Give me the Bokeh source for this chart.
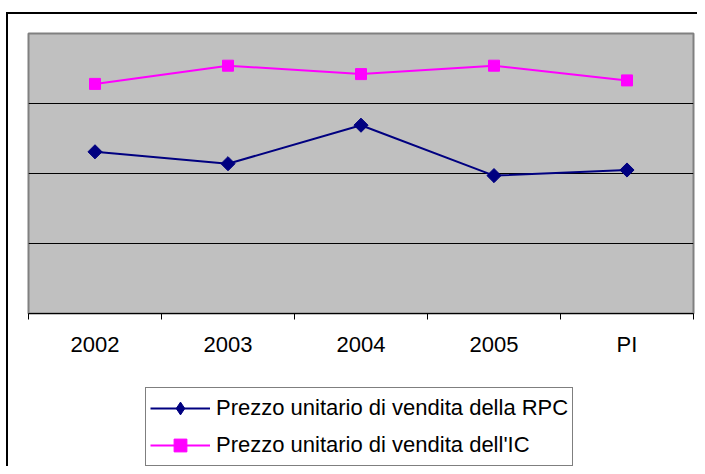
from bokeh.plotting import figure
from bokeh.layouts import column
from bokeh.models import (ColumnDataSource, Range1d, FixedTicker, LinearAxis,
                          Legend, LegendItem, Grid, InlineStyleSheet)
from bokeh.embed import file_html
from bokeh.resources import INLINE

categories = ["2002", "2003", "2004", "2005", "PI"]
rpc_price = [2.31, 2.14, 2.69, 1.97, 2.05]
ic_price = [3.28, 3.54, 3.42, 3.54, 3.33]
y_grid = [1, 2, 3]
series_labels = ["Prezzo unitario di vendita della RPC",
                 "Prezzo unitario di vendita dell'IC"]

xs = [i + 0.5 for i in range(len(categories))]
src = ColumnDataSource(dict(x=xs, rpc=rpc_price, ic=ic_price))

FONT = "Liberation Sans"
NAVY = "#000080"
MAGENTA = "#FF00FF"

# ---------------- main chart ----------------
p = figure(width=697, height=380, output_backend="svg", toolbar_location=None,
           x_range=Range1d(0, len(categories)), y_range=Range1d(0, 4),
           min_border_left=28, min_border_right=4, min_border_top=33,
           min_border_bottom=67, x_axis_type=None, y_axis_type=None)
p.background_fill_color = "#C0C0C0"
p.border_fill_color = "white"
p.outline_line_color = "#808080"
p.outline_line_width = 2

# tick axis (category boundaries)
ax_ticks = LinearAxis(ticker=FixedTicker(ticks=list(range(len(categories) + 1))))
ax_ticks.major_label_overrides = {i: "" for i in range(len(categories) + 1)}
ax_ticks.major_label_text_font_size = "1px"
ax_ticks.major_label_standoff = 0
ax_ticks.major_tick_out = 6
ax_ticks.major_tick_in = 0
ax_ticks.minor_tick_out = 0
ax_ticks.minor_tick_in = 0
ax_ticks.axis_line_color = "black"
ax_ticks.axis_line_width = 1
ax_ticks.major_tick_line_color = "black"
p.add_layout(ax_ticks, "below")

# label axis (category centers)
ax_lab = LinearAxis(ticker=FixedTicker(ticks=xs))
ax_lab.major_label_overrides = {x: c for x, c in zip(xs, categories)}
ax_lab.major_label_text_font = FONT
ax_lab.major_label_text_font_size = "22px"
ax_lab.major_label_text_color = "black"
ax_lab.major_label_standoff = 12
ax_lab.major_tick_out = 0
ax_lab.major_tick_in = 0
ax_lab.minor_tick_out = 0
ax_lab.minor_tick_in = 0
ax_lab.axis_line_color = None
p.add_layout(ax_lab, "below")

# horizontal gridlines
p.add_layout(Grid(dimension=1, ticker=FixedTicker(ticks=y_grid),
                  grid_line_color="black", grid_line_width=1))

p.line("x", "rpc", source=src, line_color=NAVY, line_width=2)
p.scatter("x", "rpc", source=src, marker="square", angle=0.785398, size=10,
          fill_color=NAVY, line_color=NAVY, line_width=1)
p.line("x", "ic", source=src, line_color=MAGENTA, line_width=2)
p.scatter("x", "ic", source=src, marker="square", size=11,
          fill_color=MAGENTA, line_color=MAGENTA, line_width=1)

# ---------------- legend strip ----------------
q = figure(width=697, height=86, output_backend="svg", toolbar_location=None,
           x_range=Range1d(0, 1), y_range=Range1d(0, 1),
           min_border=0, x_axis_type=None, y_axis_type=None)
q.background_fill_color = "white"
q.border_fill_color = "white"
q.outline_line_color = None
nan_src = ColumnDataSource(dict(x=[float("nan")], y=[float("nan")]))
ql1 = q.line("x", "y", source=nan_src, line_color=NAVY, line_width=2)
qm1 = q.scatter("x", "y", source=nan_src, marker="diamond",
                fill_color=NAVY, line_color=NAVY, line_width=1)
ql2 = q.line("x", "y", source=nan_src, line_color=MAGENTA, line_width=2)
qm2 = q.scatter("x", "y", source=nan_src, marker="square",
                fill_color=MAGENTA, line_color=MAGENTA, line_width=1)

legend = Legend(items=[
    LegendItem(label=series_labels[0], renderers=[ql1, qm1]),
    LegendItem(label=series_labels[1], renderers=[ql2, qm2]),
], location=(117, 0))
legend.label_text_font = FONT
legend.label_text_font_size = "22px"
legend.label_text_color = "black"
legend.glyph_width = 60
legend.glyph_height = 32
legend.label_height = 32
legend.label_standoff = 6
legend.spacing = 5
legend.padding = 4
legend.margin = 0
legend.border_line_color = "black"
legend.border_line_width = 1
legend.background_fill_color = "white"
legend.background_fill_alpha = 1
q.add_layout(legend, "center")

layout = column(p, q, spacing=0)
layout.stylesheets = [InlineStyleSheet(css="""
:host { position: relative; overflow: hidden; }
:host::after { content: ""; position: absolute; left: 6px; top: 12px;
  width: 760px; height: 560px; border: 2px solid black;
  pointer-events: none; z-index: 100; box-sizing: border-box; }
""")]

open("out.html", "w").write(file_html(layout, INLINE))
